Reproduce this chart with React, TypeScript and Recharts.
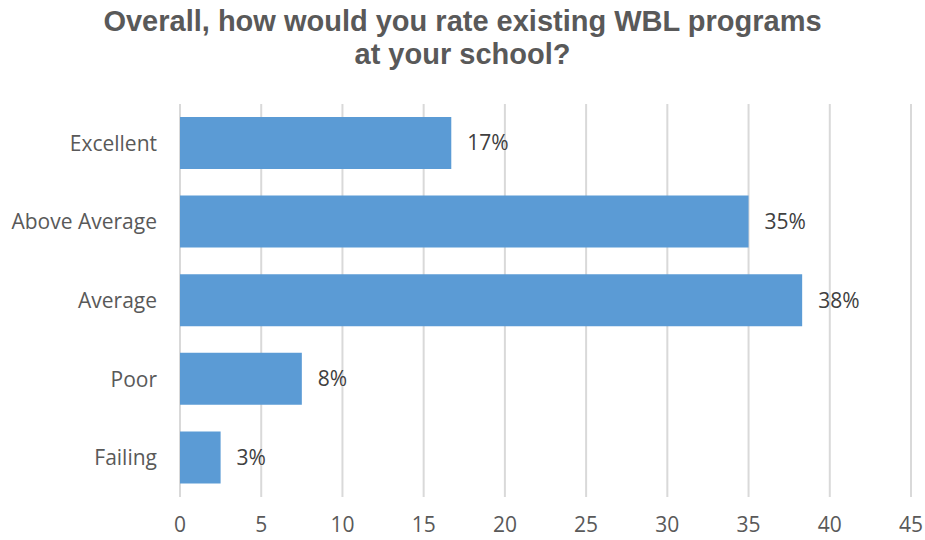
import React from "react";
import { BarChart, Bar, XAxis, YAxis, CartesianGrid, LabelList } from "recharts";

const categories = ["Excellent", "Above Average", "Average", "Poor", "Failing"];
const values = [16.7, 35, 38.3, 7.5, 2.5];
const valueLabels = ["17%", "35%", "38%", "8%", "3%"];
const xTicks = [0, 5, 10, 15, 20, 25, 30, 35, 40, 45];
const title1 = "Overall, how would you rate existing WBL programs";
const title2 = "at your school?";

const data = categories.map((c, i) => ({ name: c, value: values[i], label: valueLabels[i] }));

const tickFont = { fill: "#595959", fontSize: 21, fontFamily: "'Open Sans', sans-serif" };

export default function App() {
  return (
    <div style={{ position: "absolute", left: 0, top: 0, width: 925, height: 540, background: "#fff" }}>
      <div
        style={{
          position: "absolute",
          left: 0,
          top: 5,
          width: 925,
          textAlign: "center",
          fontFamily: "'Liberation Sans', Arial, sans-serif",
          fontWeight: "bold",
          fontSize: 29,
          lineHeight: "33px",
          color: "#595959",
        }}
      >
        <div>{title1}</div>
        <div>{title2}</div>
      </div>
      <div style={{ position: "absolute", left: 0, top: 0 }}>
        <BarChart
          width={925}
          height={540}
          data={data}
          layout="vertical"
          margin={{ top: 104, right: 14, left: 0, bottom: 0 }}
        >
          <CartesianGrid horizontal={false} stroke="#d9d9d9" strokeWidth={2} />
          <XAxis
            type="number"
            domain={[0, 45]}
            ticks={xTicks}
            interval={0}
            axisLine={false}
            tickLine={false}
            height={43}
            tickMargin={14}
            tick={tickFont}
          />
          <YAxis
            type="category"
            dataKey="name"
            width={180}
            axisLine={false}
            tickLine={false}
            tickMargin={17}
            tick={tickFont}
          />
          <Bar dataKey="value" fill="#5b9bd5" barSize={52} isAnimationActive={false}>
            <LabelList
              dataKey="label"
              position="right"
              offset={16}
              fill="#404040"
              fontSize={21}
              fontFamily="'Open Sans', sans-serif"
            />
          </Bar>
        </BarChart>
      </div>
    </div>
  );
}
